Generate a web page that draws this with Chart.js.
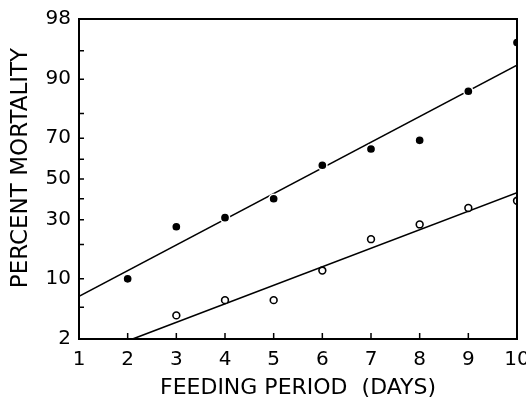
<!DOCTYPE html>
<html>
<head>
<meta charset="utf-8">
<script src="https://cdn.jsdelivr.net/npm/chart.js@4/dist/chart.umd.min.js"></script>
<style>
  html, body { margin: 0; padding: 0; background: #fff; overflow: hidden; }
  canvas { display: block; }
</style>
</head>
<body>
<canvas id="myCanvas" width="526" height="397"></canvas>
<script>
// feeding period (days) and percent mortality
const closedDays = [2, 3, 4, 5, 6, 7, 8, 9, 10];
const closedPct = [10, 27, 31, 40, 57, 65, 69, 87, 96];
const openDays = [3, 4, 5, 6, 7, 8, 9, 10];
const openPct = [4, 6, 6, 12, 22, 28, 35.5, 39];

// fitted lines (end points)
const closedFitDays = [1, 10];
const closedFitPct = [6.6, 92.8];
const openFitDays = [2.1, 10];
const openFitPct = [2, 43];

// axes
const pctTicks = [2, 5, 10, 20, 30, 40, 50, 60, 70, 80, 90, 95, 98];
const pctLabels = [2, 10, 30, 50, 70, 90, 98];
const dayMin = 1;
const dayMax = 10;

const FONT = "'DejaVu Sans', sans-serif";

// inverse normal cdf (Acklam)
function probit(p) {
  const a = [-39.69683028665376, 220.9460984245205, -275.9285104469687, 138.357751867269, -30.66479806614716, 2.506628277459239];
  const b = [-54.47609879822406, 161.5858368580409, -155.6989798598866, 66.80131188771972, -13.28068155288572];
  const c = [-0.007784894002430293, -0.3223964580411365, -2.400758277161838, -2.549732539343734, 4.374664141464968, 2.938163982698783];
  const d = [0.007784695709041462, 0.3224671290700398, 2.445134137142996, 3.754408661907416];
  const lo = 0.02425, hi = 1 - lo;
  let q, r;
  if (p < lo) {
    q = Math.sqrt(-2 * Math.log(p));
    return (((((c[0] * q + c[1]) * q + c[2]) * q + c[3]) * q + c[4]) * q + c[5]) /
      ((((d[0] * q + d[1]) * q + d[2]) * q + d[3]) * q + 1);
  }
  if (p > hi) {
    q = Math.sqrt(-2 * Math.log(1 - p));
    return -(((((c[0] * q + c[1]) * q + c[2]) * q + c[3]) * q + c[4]) * q + c[5]) /
      ((((d[0] * q + d[1]) * q + d[2]) * q + d[3]) * q + 1);
  }
  q = p - 0.5;
  r = q * q;
  return (((((a[0] * r + a[1]) * r + a[2]) * r + a[3]) * r + a[4]) * r + a[5]) * q /
    (((((b[0] * r + b[1]) * r + b[2]) * r + b[3]) * r + b[4]) * r + 1);
}

function normCdf(z) {
  // bisection on probit, good enough for pixel -> value
  let lo = 1e-6, hi = 1 - 1e-6;
  for (let i = 0; i < 50; i++) {
    const mid = (lo + hi) / 2;
    if (probit(mid) < z) lo = mid; else hi = mid;
  }
  return (lo + hi) / 2;
}

// probability (probit) scale, values in percent
class ProbitScale extends Chart.Scale {
  static id = "probit";
  static defaults = {};

  parse(raw) {
    return +raw;
  }
  determineDataLimits() {
    this.min = this.options.min;
    this.max = this.options.max;
  }
  buildTicks() {
    return pctTicks.map((v) => ({ value: v }));
  }
  configure() {
    super.configure();
    this._zMin = probit(this.min / 100);
    this._zRange = probit(this.max / 100) - this._zMin;
  }
  getLabelForValue(v) {
    return String(v);
  }
  getPixelForTick(i) {
    return this.getPixelForValue(this.ticks[i].value);
  }
  getPixelForValue(v) {
    return this.getPixelForDecimal((probit(v / 100) - this._zMin) / this._zRange);
  }
  getValueForPixel(px) {
    return 100 * normCdf(this.getDecimalForPixel(px) * this._zRange + this._zMin);
  }
}
Chart.register(ProbitScale);

const toXY = (xs, ys) => xs.map((x, i) => ({ x: x, y: ys[i] }));

// box around the plot and short inward tick marks
const frame = {
  id: "frame",
  afterDatasetsDraw(chart) {
    const { ctx, chartArea: a } = chart;
    const xs = chart.scales.x;
    const ys = chart.scales.y;
    ctx.save();
    ctx.strokeStyle = "#000";
    ctx.lineWidth = 1.5;
    ctx.beginPath();
    ys.ticks.forEach((t, i) => {
      const py = ys.getPixelForTick(i);
      ctx.moveTo(a.left, py);
      ctx.lineTo(a.left + 5, py);
    });
    xs.ticks.forEach((t, i) => {
      const px = xs.getPixelForTick(i);
      ctx.moveTo(px, a.bottom);
      ctx.lineTo(px, a.bottom - 6);
    });
    ctx.stroke();
    ctx.lineWidth = 2;
    ctx.strokeRect(a.left, a.top, a.right - a.left, a.bottom - a.top);
    ctx.restore();
  },
};

new Chart(document.getElementById("myCanvas"), {
  type: "scatter",
  data: {
    datasets: [
      {
        data: toXY(closedDays, closedPct),
        pointRadius: 4.6,
        pointBackgroundColor: "#000",
        pointBorderColor: "#fff",
        pointBorderWidth: 1.5,
        order: 1,
      },
      {
        data: toXY(openDays, openPct),
        pointRadius: 3.4,
        pointBackgroundColor: "#fff",
        pointBorderColor: "#000",
        pointBorderWidth: 1.6,
        order: 1,
      },
      {
        type: "line",
        data: toXY(closedFitDays, closedFitPct),
        borderColor: "#000",
        borderWidth: 1.6,
        pointRadius: 0,
        order: 2,
      },
      {
        type: "line",
        data: toXY(openFitDays, openFitPct),
        borderColor: "#000",
        borderWidth: 1.6,
        pointRadius: 0,
        order: 2,
      },
    ],
  },
  options: {
    responsive: false,
    animation: false,
    devicePixelRatio: 1,
    layout: { padding: { top: 19, right: 9, left: 0, bottom: 0 } },
    plugins: { legend: { display: false }, tooltip: { enabled: false } },
    scales: {
      x: {
        type: "linear",
        min: dayMin,
        max: dayMax,
        grid: { display: false, drawTicks: false },
        border: { display: false },
        ticks: {
          stepSize: 1,
          padding: 9,
          color: "#000",
          font: { family: FONT, size: 20 },
        },
        title: {
          display: true,
          text: "FEEDING PERIOD  (DAYS)",
          color: "#000",
          font: { family: FONT, size: 22 },
          padding: { top: 0, bottom: -4 },
        },
        afterFit(scale) {
          scale.height = 58;
          scale.paddingLeft = 0;
          scale.paddingRight = 0;
        },
      },
      y: {
        type: "probit",
        position: "left",
        min: 2,
        max: 98,
        grid: { display: false, drawTicks: false },
        border: { display: false },
        ticks: {
          autoSkip: false,
          padding: 8,
          color: "#000",
          font: { family: FONT, size: 20 },
          callback: (v) => (pctLabels.includes(v) ? String(v) : ""),
        },
        title: {
          display: true,
          text: "   PERCENT MORTALITY",
          color: "#000",
          font: { family: FONT, size: 23 },
          padding: { top: 7, bottom: 0 },
        },
        afterFit(scale) {
          scale.width = 79;
          scale.paddingTop = 0;
          scale.paddingBottom = 0;
        },
      },
    },
  },
  plugins: [frame],
});
</script>
</body>
</html>
